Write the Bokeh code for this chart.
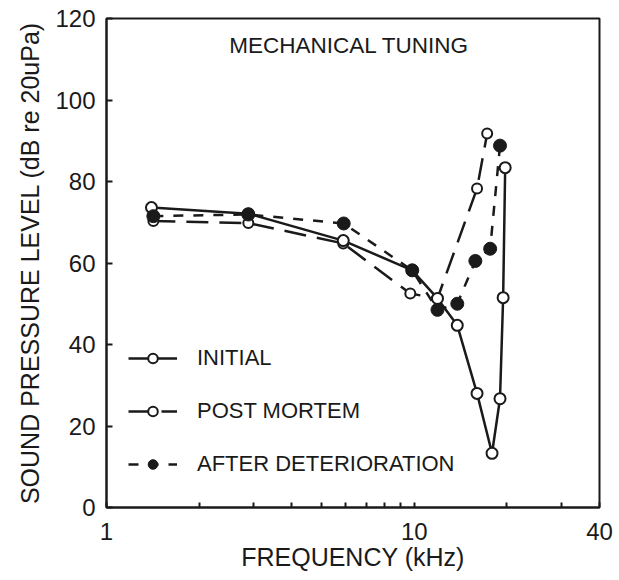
from bokeh.plotting import figure
from bokeh.models import FixedTicker, Legend, LegendItem, Label, Range1d
from bokeh.embed import file_html
from bokeh.resources import INLINE

# ---- data (frequency in kHz, level in dB SPL) ----
initial_f = [1.40, 2.89, 5.88, 9.85, 11.9, 13.8, 16.0, 17.9, 19.0, 19.45, 19.75]
initial_db = [73.6, 72.1, 65.5, 58.2, 51.3, 44.7, 28.0, 13.3, 26.7, 51.5, 83.4]

post_f = [1.42, 2.89, 5.88, 9.71, 11.9, 16.0, 17.26]
post_db = [70.3, 69.8, 64.8, 52.5, 51.3, 78.3, 91.8]

det_f = [1.42, 2.89, 5.90, 9.85, 11.9, 13.8, 15.8, 17.65, 19.0]
det_db = [71.5, 71.9, 69.7, 58.2, 48.5, 50.0, 60.5, 63.5, 88.8]

x_major = [1, 10, 40]
x_minor = [2, 3, 4, 5, 6, 7, 8, 9, 20, 30]
y_ticks = [0, 20, 40, 60, 80, 100, 120]

title_text = "MECHANICAL TUNING"
x_label = "FREQUENCY (kHz)"
y_label = "SOUND PRESSURE LEVEL (dB re 20uPa)"
labels = ["INITIAL", "POST MORTEM", "AFTER DETERIORATION"]

FONT = "Liberation Sans"
INK = "#1a1a1a"

p = figure(width=619, height=580, x_axis_type="log",
           x_range=Range1d(1, 40), y_range=Range1d(0, 120),
           output_backend="svg", toolbar_location=None,
           min_border_left=106, min_border_right=20,
           min_border_top=18, min_border_bottom=73)
p.xgrid.visible = False
p.ygrid.visible = False
p.outline_line_color = INK
p.outline_line_width = 2
p.background_fill_color = "white"
p.border_fill_color = "white"

# x axis
p.xaxis.ticker = FixedTicker(ticks=x_major, minor_ticks=x_minor)
p.xaxis.major_label_overrides = {1: "1", 10: "10", 40: "40"}
p.xaxis.major_tick_in = 5
p.xaxis.major_tick_out = 0
p.xaxis.minor_tick_in = 5
p.xaxis.minor_tick_out = 0
p.xaxis.major_label_standoff = 15
p.xaxis.axis_label = x_label
p.xaxis.axis_label_standoff = 0

# y axis
p.yaxis.ticker = FixedTicker(ticks=y_ticks)
p.yaxis.major_tick_in = 6
p.yaxis.major_tick_out = 0
p.yaxis.major_label_standoff = 11
p.yaxis.axis_label = y_label
p.yaxis.axis_label_standoff = 8

for ax in (p.xaxis, p.yaxis):
    ax.axis_line_color = INK
    ax.axis_line_width = 2
    ax.major_tick_line_color = INK
    ax.major_tick_line_width = 2
    ax.minor_tick_line_color = INK
    ax.minor_tick_line_width = 2
    ax.major_label_text_font = FONT
    ax.major_label_text_font_size = "24px"
    ax.major_label_text_color = INK
    ax.axis_label_text_font = FONT
    ax.axis_label_text_font_size = "25px"
    ax.axis_label_text_font_style = "normal"
    ax.axis_label_text_color = INK
p.yaxis.minor_tick_line_color = None

# series
l_post = p.line(post_f, post_db, line_color=INK, line_width=2.5, line_dash="22 11")
l_init = p.line(initial_f, initial_db, line_color=INK, line_width=2.5)
l_det = p.line(det_f, det_db, line_color=INK, line_width=2.5, line_dash="10 10")

s_post = p.scatter(post_f, post_db, marker="circle", size=10, line_color=INK,
                   line_width=2, fill_color="white")
s_init = p.scatter(initial_f, initial_db, marker="circle", size=11, line_color=INK,
                   line_width=2, fill_color="white")
s_det = p.scatter(det_f, det_db, marker="circle", size=13, line_color=INK,
                  line_width=1, fill_color=INK)

legend = Legend(items=[
    LegendItem(label=labels[0], renderers=[l_init, s_init]),
    LegendItem(label=labels[1], renderers=[l_post, s_post]),
    LegendItem(label=labels[2], renderers=[l_det, s_det]),
], location=(22, 30))
legend.glyph_width = 49
legend.glyph_height = 24
legend.label_height = 24
legend.label_standoff = 20
legend.spacing = 27
legend.padding = 0
legend.margin = 0
legend.border_line_alpha = 0
legend.background_fill_alpha = 0
legend.label_text_font = FONT
legend.label_text_font_size = "22px"
legend.label_text_color = INK
p.add_layout(legend)

p.add_layout(Label(x=6.15, y=113.3, text=title_text, text_align="center",
                   text_baseline="middle", text_font=FONT,
                   text_font_size="22.5px", text_color=INK))

open("out.html", "w").write(file_html(p, INLINE))
